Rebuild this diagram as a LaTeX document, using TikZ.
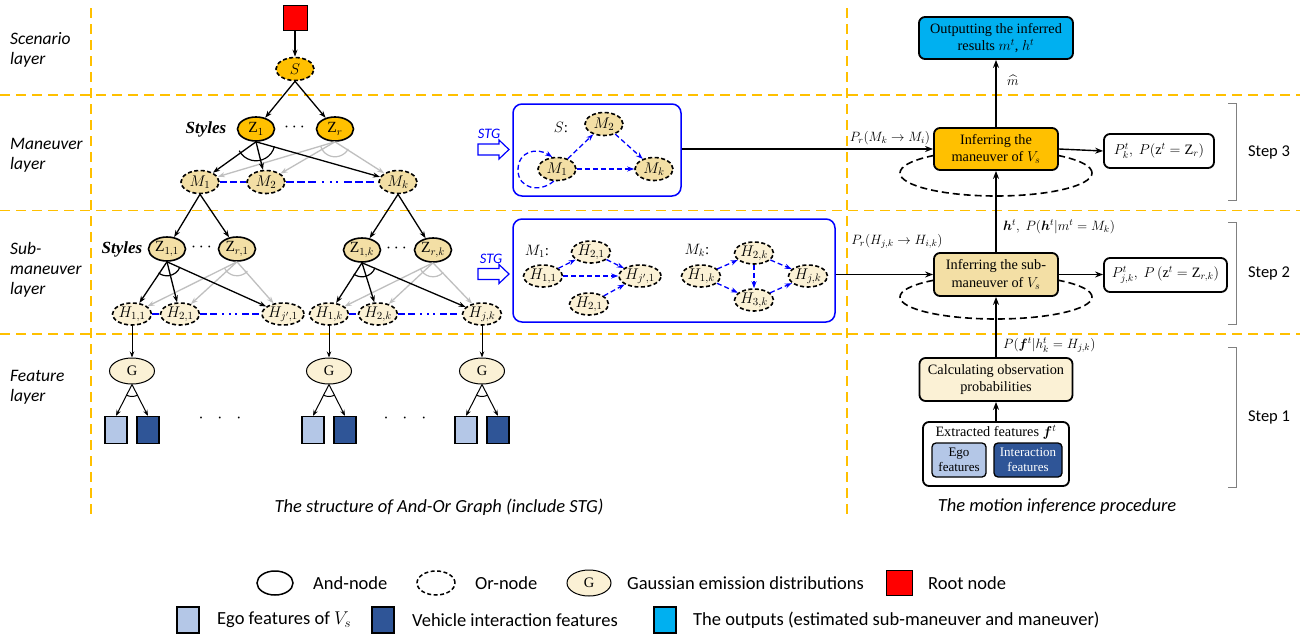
\RequirePackage{fix-cm}
\documentclass[tikz,border=0pt]{standalone}
\usepackage{amsmath}
\usepackage{bm}
\usepackage{fontspec}
\setmainfont{Liberation Serif}
\setsansfont{Carlito}
\usetikzlibrary{arrows.meta,shapes.geometric,calc}
\definecolor{orng}{HTML}{FFC000}
\definecolor{tanfill}{HTML}{F3DFA5}
\definecolor{lightfill}{HTML}{FBF1D5}
\definecolor{egoblue}{HTML}{B4C7E7}
\definecolor{darkblue}{HTML}{2F5597}
\definecolor{cyanfill}{HTML}{00B0F0}
\definecolor{yel}{HTML}{FFC000}
\definecolor{grayarrow}{HTML}{BFBFBF}
\definecolor{stgblue}{HTML}{0000FF}
\newcommand\andarc[5][black]{\draw[#1,line width=1.2pt] ([shift={(#3:#5pt)}]#2) arc[start angle=#3,end angle=#4,radius=#5pt];}
\newcommand\hollowarr[2]{\draw[stgblue,fill=white,line width=1.2pt] (#1,#2-5.5) -- (#1+21,#2-5.5) -- (#1+21,#2-9.5) -- (#1+31,#2) -- (#1+21,#2+9.5) -- (#1+21,#2+5.5) -- (#1,#2+5.5) -- cycle;}
\tikzset{
 layerline/.style={draw=yel, line width=1.6pt, dash pattern=on 10pt off 6pt},
 ell/.style={ellipse, draw, line width=1.6pt, inner sep=0pt, font=\fontsize{15.5}{17}\selectfont},
 andn/.style={ell, minimum width=37pt, minimum height=24pt},
 orn/.style={ell, dash pattern=on 4pt off 2.5pt, minimum width=38pt, minimum height=23pt},
 hn/.style={orn, fill=lightfill, minimum width=39pt, minimum height=22pt},
 gn/.style={ell, line width=1pt, fill=lightfill, minimum width=45pt, minimum height=26pt, font=\fontsize{14.5}{16}\selectfont},
 sq/.style={draw, line width=1.2pt, minimum width=22pt, minimum height=27pt, inner sep=0pt},
 blk/.style={-{Stealth[length=7pt,width=5pt]}, line width=1.3pt},
 gry/.style={blk, draw=grayarrow},
 thinarr/.style={-{Stealth[length=6pt,width=4.5pt]}, line width=1pt},
 stgedge/.style={-{Stealth[length=7pt,width=5pt]}, draw=stgblue, line width=1.3pt, dash pattern=on 5pt off 3pt},
 bluedash/.style={draw=stgblue, line width=1.8pt, dash pattern=on 7pt off 3pt},
 bluedd/.style={draw=stgblue, line width=1.8pt, dash pattern=on 8pt off 3pt on 8pt off 3pt on 8pt off 6pt on 2pt off 6pt on 2pt off 4pt on 2pt off 6pt on 8pt off 3pt on 8pt off 3pt on 8pt off 6pt},
 bluedds/.style={draw=stgblue, line width=1.8pt, dash pattern=on 7pt off 3pt on 7pt off 5pt on 2pt off 5pt on 2pt off 4pt on 2pt off 5pt on 7pt off 3pt on 7pt off 5pt},
 stgbox/.style={draw=stgblue, line width=1.5pt, rounded corners=9pt},
 pbox/.style={draw, line width=1.8pt, rounded corners=6pt, align=center, inner sep=0pt, font=\fontsize{14.3}{17.5}\selectfont},
 parr/.style={-{Stealth[length=8pt,width=6pt]}, line width=1.4pt},
 plabel/.style={font=\fontsize{13.5}{16}\selectfont, inner sep=0pt},
 layerlabel/.style={font=\sffamily\itshape\fontsize{17.5}{20}\selectfont, align=left, anchor=west, inner sep=0pt},
 captext/.style={font=\sffamily\itshape\fontsize{18.5}{22}\selectfont, inner sep=0pt},
 steplabel/.style={font=\sffamily\fontsize{16.5}{20}\selectfont, inner sep=0pt},
 legtext/.style={font=\sffamily\fontsize{18.5}{21}\selectfont, anchor=west, inner sep=0pt},
 bracket/.style={draw=gray, line width=1pt},
 stgtext/.style={text=stgblue, font=\sffamily\itshape\fontsize{14.5}{16}\selectfont, inner sep=0pt},
 stylestext/.style={font=\fontsize{17}{19}\selectfont\bfseries\itshape, inner sep=0pt},
 dotstext/.style={font=\fontsize{18}{20}\selectfont, inner sep=0pt},
}
\begin{document}
\begin{tikzpicture}[x=1pt,y=-1pt]
\useasboundingbox (0,0) rectangle (1309,637);
\fill[white] (0,0) rectangle (1309,637);
% layer separators
\draw[layerline] (0,95) -- (1300,95);
\draw[layerline] (0,210.5) -- (1300,210.5);
\draw[layerline] (0,334) -- (1300,334);
\draw[layerline] (91,8) -- (91,515);
\draw[layerline] (847,8) -- (847,515);
% layer labels
\node[layerlabel] at (10,50) {Scenario\\layer};
\node[layerlabel] at (10,155) {Maneuver\\layer};
\node[layerlabel] at (10,270) {Sub-\\maneuver\\layer};
\node[layerlabel] at (10,387) {Feature\\layer};
% AOG nodes
\node[draw, fill=red, line width=1pt, minimum width=24pt, minimum height=25pt, inner sep=0pt] (root) at (295,18) {};
\node[orn, fill=orng] (S) at (295,69) {$S$};
\node[andn, fill=orng] (Z1) at (256,129) {$\mathrm{Z}_1$};
\node[andn, fill=orng] (Zr) at (335,129) {$\mathrm{Z}_r$};
\node[stylestext] (stylesA) at (206,129) {Styles};
\node[dotstext] (dotsA) at (296,127) {$\cdots$};
\node[orn, fill=tanfill] (M1) at (200,182) {$M_1$};
\node[orn, fill=tanfill] (M2) at (266,182) {$M_2$};
\node[orn, fill=tanfill] (Mk) at (398,182) {$M_k$};
\node[andn, fill=tanfill] (Z11) at (167,249) {$\mathrm{Z}_{1,1}$};
\node[andn, fill=tanfill] (Zr1) at (237,249) {$\mathrm{Z}_{r,1}$};
\node[andn, fill=tanfill] (Z1k) at (362,250) {$\mathrm{Z}_{1,k}$};
\node[andn, fill=tanfill] (Zrk) at (433,250) {$\mathrm{Z}_{r,k}$};
\node[stylestext] (stylesB) at (122,249) {Styles};
\node[dotstext] (dotsB) at (203,247) {$\cdots$};
\node[dotstext] (dotsC) at (398,248) {$\cdots$};
\node[hn] (H11) at (132,314) {$H_{1,1}$};
\node[hn] (H21) at (180,314) {$H_{2,1}$};
\node[hn] (Hj1) at (283,314) {$H_{j',1}$};
\node[hn] (H1k) at (329,314) {$H_{1,k}$};
\node[hn] (H2k) at (378,314) {$H_{2,k}$};
\node[hn] (Hjk) at (482,314) {$H_{j,k}$};
\node[gn] (G1) at (132,371) {G};
\node[gn] (G2) at (329,371) {G};
\node[gn] (G3) at (482,371) {G};
\node[sq, fill=egoblue] (e1) at (116,430) {};
\node[sq, fill=darkblue] (d1) at (148,430) {};
\node[sq, fill=egoblue] (e2) at (313,430) {};
\node[sq, fill=darkblue] (d2) at (345,430) {};
\node[sq, fill=egoblue] (e3) at (466,430) {};
\node[sq, fill=darkblue] (d3) at (498,430) {};
\node[font=\fontsize{18}{20}\selectfont, inner sep=0pt] (dots4) at (220,418) {$\cdot\;\;\cdot\;\;\cdot$};
\node[font=\fontsize{18}{20}\selectfont, inner sep=0pt] (dots5) at (405,418) {$\cdot\;\;\cdot\;\;\cdot$};
% AOG edges
\draw[blk] (root) -- (S);
\draw[blk] (S.south) -- (Z1);
\draw[blk] (S.south) -- (Zr);
\draw[gry] (Zr.south) -- (M1);
\draw[gry] (Zr.south) -- (M2);
\draw[gry] (Zr.south) -- (Mk);
\andarc[grayarrow]{Zr.south}{-28}{-163}{15}
\draw[blk] (Z1.south) -- (M1);
\draw[blk] (Z1.south) -- (M2);
\draw[blk] (Z1.south) -- (Mk);
\andarc{Z1.south}{-14}{-152}{19}
\draw[bluedash] (M1) -- (M2);
\draw[bluedd] (M2) -- (Mk);
\draw[blk] (M1.south) -- (Z11);
\draw[blk] (M1.south) -- (Zr1);
\draw[blk] (Mk.south) -- (Z1k);
\draw[blk] (Mk.south) -- (Zrk);
\draw[gry] (Zr1.south) -- (H11);
\draw[gry] (Zr1.south) -- (H21);
\draw[gry] (Zr1.south) -- (Hj1);
\andarc[grayarrow]{Zr1.south}{-42}{-153}{14}
\draw[blk] (Z11.south) -- (H11);
\draw[blk] (Z11.south) -- (H21);
\draw[blk] (Z11.south) -- (Hj1);
\andarc{Z11.south}{-22}{-127}{14}
\draw[gry] (Zrk.south) -- (H1k);
\draw[gry] (Zrk.south) -- (H2k);
\draw[gry] (Zrk.south) -- (Hjk);
\andarc[grayarrow]{Zrk.south}{-43}{-155}{14}
\draw[blk] (Z1k.south) -- (H1k);
\draw[blk] (Z1k.south) -- (H2k);
\draw[blk] (Z1k.south) -- (Hjk);
\andarc{Z1k.south}{-21}{-126}{14}
\draw[bluedash] (H11) -- (H21);
\draw[bluedds] (H21) -- (Hj1);
\draw[bluedash] (H1k) -- (H2k);
\draw[bluedds] (H2k) -- (Hjk);
\draw[thinarr] (H11) -- (G1);
\draw[thinarr] (H1k) -- (G2);
\draw[thinarr] (Hjk) -- (G3);
\foreach \g/\a/\b in {G1/e1/d1, G2/e2/d2, G3/e3/d3}{
  \draw[thinarr] (\g.south) -- (\a.north);
  \draw[thinarr] (\g.south) -- (\b.north);
  \draw[line width=1pt] ([shift={(-62:12pt)}]\g.south) arc[start angle=-62,end angle=-118,radius=12pt];
}
% STG box 1
\node[stgbox, minimum width=168pt, minimum height=92pt] (stg1) at (597,150) {};
\node[stgtext] (stgt1) at (489,134) {STG};
\hollowarr{478}{149.5}
\node[font=\fontsize{15}{17}\selectfont, inner sep=0pt] (Slab) at (561,127) {$S$:};
\node[orn, fill=tanfill] (M1s) at (557,169) {$M_1$};
\node[orn, fill=tanfill] (M2s) at (604,124) {$M_2$};
\node[orn, fill=tanfill] (Mks) at (654,169) {$M_k$};
\draw[stgedge] (M1s) -- (M2s);
\draw[stgedge] (M2s) -- (Mks);
\draw[stgedge] (M1s) -- (Mks);
\draw[stgedge] (M1s.255) .. controls (540,193) and (518,189) .. (518,170) .. controls (518,151) and (537,147) .. (M1s.112);
% STG box 2
\node[stgbox, minimum width=322pt, minimum height=103pt] (stg2) at (674,270.5) {};
\node[stgtext] (stgt2) at (491,259) {STG};
\hollowarr{478}{274}
\node[font=\fontsize{15}{17}\selectfont, inner sep=0pt] (M1lab) at (537,251) {$M_1$:};
\node[font=\fontsize{15}{17}\selectfont, inner sep=0pt] (Mklab) at (697,250) {$M_k$:};
\node[hn] (H11s) at (543,276) {$H_{1,1}$};
\node[hn] (H21s) at (591,252) {$H_{2,1}$};
\node[hn] (Hj1s) at (640,276) {$H_{j',1}$};
\node[hn] (H21b) at (589,304) {$H_{2,1}$};
\node[hn] (H1ks) at (701,276) {$H_{1,k}$};
\node[hn] (H2ks) at (754,253) {$H_{2,k}$};
\node[hn] (H3ks) at (754,300) {$H_{3,k}$};
\node[hn] (Hjks) at (808,276) {$H_{j,k}$};
\draw[stgedge] (H11s) -- (H21s);
\draw[stgedge] (H11s) -- (Hj1s);
\draw[stgedge] (H21s) -- (Hj1s);
\draw[stgedge] (H21b) -- (Hj1s);
\draw[stgedge] (H1ks) -- (H2ks);
\draw[stgedge] (H1ks) -- (H3ks);
\draw[stgedge] (H2ks) -- (H3ks);
\draw[stgedge] (H2ks) -- (Hjks);
\draw[stgedge] (H3ks) -- (Hjks);
% captions
\node[captext] (cap1) at (439,507) {The structure of And-Or Graph (include STG)};
\node[captext] (cap2) at (1057,507) {The motion inference procedure};
% procedure
\node[ellipse, draw, line width=1.6pt, dash pattern=on 7pt off 4pt, minimum width=192pt, minimum height=46pt] (loop1) at (996,173) {};
\node[ellipse, draw, line width=1.6pt, dash pattern=on 7pt off 4pt, minimum width=192pt, minimum height=44pt] (loop2) at (996,297) {};
\node[pbox, fill=cyanfill, minimum width=154pt, minimum height=42pt] (out) at (996,38) {Outputting the inferred\\results $m^t$, $h^t$};
\node[pbox, fill=orng, minimum width=124pt, minimum height=42pt] (man) at (996,149) {Inferring the\\maneuver of $V_s$};
\node[pbox, fill=white, minimum width=110pt, minimum height=34pt] (manres) at (1159,151) {$P_k^t,\ P(\mathrm{z}^t=\mathrm{Z}_r)$};
\node[pbox, fill=tanfill, minimum width=124pt, minimum height=43pt] (sub) at (996,274.5) {Inferring the sub-\\maneuver of $V_s$};
\node[pbox, fill=white, minimum width=123pt, minimum height=34pt] (subres) at (1165.5,275) {$P_{j,k}^t,\ P\left(\mathrm{z}^t=\mathrm{Z}_{r,k}\right)$};
\node[pbox, fill=lightfill, minimum width=153pt, minimum height=43pt] (calc) at (996,379.5) {Calculating observation\\probabilities};
\node[pbox, fill=white, minimum width=146pt, minimum height=64pt] (ext) at (996,454) {};
\node[font=\fontsize{14.3}{17}\selectfont, inner sep=0pt] (extlab) at (996,432) {Extracted features $\boldsymbol{f}^t$};
\node[draw, line width=1.3pt, rounded corners=4pt, fill=egoblue, minimum width=54pt, minimum height=34pt, inner sep=0pt, align=center, font=\fontsize{13}{15}\selectfont] (ego) at (959,460) {Ego\\features};
\node[draw, line width=1.3pt, rounded corners=4pt, fill=darkblue, text=white, minimum width=68pt, minimum height=34pt, inner sep=0pt, align=center, font=\fontsize{13}{15}\selectfont] (inter) at (1028,460) {Interaction\\features};
\draw[parr] (man.north) -- (out.south);
\draw[parr] (sub.north) -- (man.south);
\draw[parr] (calc.north) -- (sub.south);
\draw[parr] (ext.north) -- (calc.south);
\draw[parr] (man.east) -- (manres.west);
\draw[parr] (sub.east) -- (sub.east -| subres.west);
\draw[parr] (man.west -| stg1.east) -- (man.west);
\draw[parr] (sub.west -| stg2.east) -- (sub.west);
\node[plabel] (mhat) at (1013,80) {$\widehat{m}$};
\node[plabel] (pr1) at (890,138) {$P_r(M_k\rightarrow M_i)$};
\node[plabel] (pr2) at (897,241) {$P_r(H_{j,k}\rightarrow H_{i,k})$};
\node[plabel, anchor=west] (htl) at (1003,227) {$\boldsymbol{h}^t,\ P(\boldsymbol{h}^t|m^t=M_k)$};
\node[plabel, anchor=west] (pfl) at (1003,345) {$P(\boldsymbol{f}^t|h_k^t=H_{j,k})$};
% steps
\draw[bracket] (1228,103) -- (1236,103) -- (1236,200) -- (1228,200);
\draw[bracket] (1228,222) -- (1236,222) -- (1236,324) -- (1228,324);
\draw[bracket] (1228,347) -- (1236,347) -- (1236,487) -- (1228,487);
\node[steplabel] (s3) at (1269,152) {Step 3};
\node[steplabel] (s2) at (1269,273) {Step 2};
\node[steplabel] (s1) at (1269,417) {Step 1};
% legend
\node[ellipse, draw, line width=1.5pt, minimum width=36pt, minimum height=24pt] (andL) at (275,583) {};
\node[legtext] (andT) at (313,583) {And-node};
\node[ellipse, draw, line width=1.5pt, dash pattern=on 4pt off 2.5pt, minimum width=38pt, minimum height=24pt] (orL) at (436,583) {};
\node[legtext] (orT) at (475,583) {Or-node};
\node[gn, minimum width=44pt] (gL) at (589,583) {G};
\node[legtext] (gT) at (627,583) {Gaussian emission distributions};
\node[draw, fill=red, line width=1pt, minimum width=26pt, minimum height=25pt, inner sep=0pt] (rootL) at (899,583) {};
\node[legtext] (rootT) at (928,583) {Root node};
\node[sq, fill=egoblue, minimum height=26pt] (egoL) at (188,620) {};
\node[legtext] (egoT) at (217,620) {Ego features of $V_s$};
\node[sq, fill=darkblue, minimum height=26pt] (darkL) at (383,620) {};
\node[legtext] (darkT) at (412,620) {Vehicle interaction features};
\node[sq, fill=cyanfill, minimum height=26pt] (cyanL) at (665,620) {};
\node[legtext] (cyanT) at (693,620) {The outputs (estimated sub-maneuver and maneuver)};
\end{tikzpicture}
\end{document}
